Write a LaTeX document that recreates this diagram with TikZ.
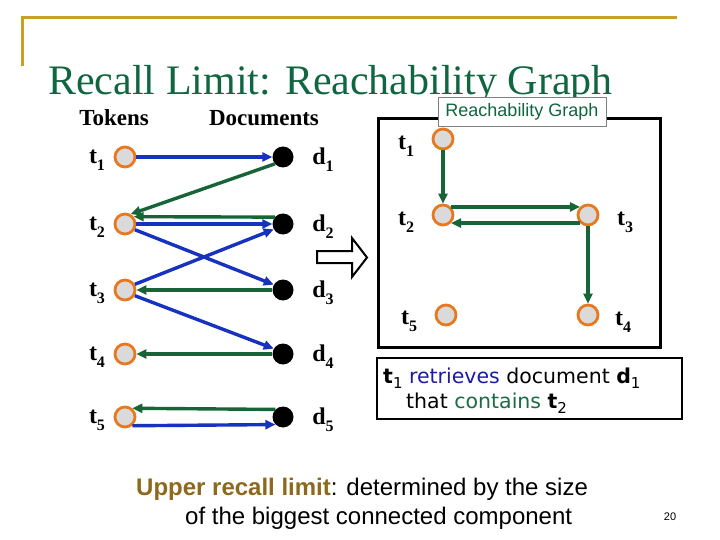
\documentclass[tikz,border=0pt]{standalone}
\usepackage{fontspec}
\setmainfont{Liberation Serif}
\newfontfamily\arialf{Liberation Sans}
\newfontfamily\verdf{DejaVu Sans}
\usetikzlibrary{arrows.meta}
\definecolor{goldC}{RGB}{200,160,40}
\definecolor{titleC}{RGB}{16,102,64}
\definecolor{orangeC}{RGB}{232,120,30}
\definecolor{grayC}{RGB}{218,218,218}
\definecolor{blueC}{RGB}{22,50,190}
\definecolor{greenC}{RGB}{22,100,55}
\definecolor{txtblue}{RGB}{28,28,160}
\definecolor{txtgreen}{RGB}{30,105,70}
\definecolor{brownC}{RGB}{140,105,28}
\newcommand\lab[2]{#1\raisebox{-0.28em}{\fontsize{16}{16}\selectfont #2}}
\newcommand\vlab[2]{\textbf{#1}\raisebox{-0.25em}{\fontsize{15}{15}\selectfont #2}}
\begin{document}
\begin{tikzpicture}[x=1pt,y=-1pt,
  tok/.style={circle,draw=orangeC,line width=2.8pt,fill=grayC,minimum size=20pt,inner sep=0pt},
  doc/.style={circle,fill=black,minimum size=21pt,inner sep=0pt},
  lbl/.style={font=\fontsize{24}{24}\selectfont\bfseries,inner sep=0pt},
  bl/.style={draw=blueC,line width=3.4pt,-{Triangle[length=10pt,width=9pt]}},
  gr/.style={draw=greenC,line width=3.4pt,-{Triangle[length=10pt,width=9pt]}},
  hdr/.style={font=\fontsize{23}{23}\selectfont\bfseries,inner sep=0pt}]
\useasboundingbox (0,0) rectangle (720,540);
% gold frame lines
\draw[goldC,line width=3pt] (22,66) -- (22,18) -- (677,18);
% title
\node[anchor=base west,inner sep=0pt,text=titleC,font=\fontsize{42}{42}\selectfont] (title) at (48,95) {Recall Limit: Reachability Graph};
% headers
\node[hdr] (htok) at (114,118) {Tokens};
\node[hdr] (hdoc) at (264,118) {Documents};
% left tokens and documents
\foreach \i/\y in {1/157,2/224,3/290,4/354,5/417}{
  \node[tok] (t\i) at (125,\y) {};
  \node[doc] (d\i) at (283,\y) {};
  \node[lbl] (lt\i) at (97,\y+3) {\lab{t}{\i}};
  \node[lbl] (ld\i) at (323,\y+3) {\lab{d}{\i}};
}
% left edges
\draw[bl] (t1) -- (d1);
\draw[gr] (d1.220) -- (t2.60);
\draw[gr] (d2.140) -- (t2.40);
\draw[bl] (t2) -- (d2);
\draw[bl] (t2.-30) -- (d3.150);
\draw[bl] (t3.30) -- (d2.-150);
\draw[gr] (d3) -- (t3);
\draw[bl] (t3.-30) -- (d4.150);
\draw[gr] (d4) -- (t4);
\draw[gr] (d5.135) -- (t5.50);
\draw[bl] (t5.-50) -- (d5.-135);
% hollow arrow
\draw[line width=2pt,fill=white] (317,251) -- (352,251) -- (352,238) -- (367,257.5) -- (352,277) -- (352,263) -- (317,263) -- cycle;
% right box
\draw[line width=3pt] (378,119) rectangle (660,347);
\node[draw=gray,line width=0.6pt,fill=white,minimum width=168pt,minimum height=29pt,inner sep=0pt,text=titleC,font=\arialf\fontsize{18}{18}\selectfont] (rgt) at (522,111.5) {Reachability Graph};
% right nodes
\node[tok] (r1) at (443,139) {};
\node[tok] (r2) at (443,215) {};
\node[tok] (r3) at (588,215) {};
\node[tok] (r5) at (446,315) {};
\node[tok] (r4) at (588,315) {};
\node[lbl] (lr1) at (406,146) {\lab{t}{1}};
\node[lbl] (lr2) at (406,222) {\lab{t}{2}};
\node[lbl] (lr3) at (625,222) {\lab{t}{3}};
\node[lbl] (lr5) at (409,321) {\lab{t}{5}};
\node[lbl] (lr4) at (623,322) {\lab{t}{4}};
\draw[gr] (r1) -- (r2);
\draw[gr] (r2.45) -- (r3.135);
\draw[gr] (r3.-135) -- (r2.-45);
\draw[gr] (r3) -- (r4);
% explanation box
\draw[line width=2.4pt] (377,358) rectangle (682,419);
\node[anchor=base west,inner sep=0pt,font=\verdf\fontsize{20.5}{20.5}\selectfont] (ex1) at (383,383) {\vlab{t}{1} \textcolor{txtblue}{retrieves} document \vlab{d}{1}};
\node[anchor=base west,inner sep=0pt,font=\verdf\fontsize{20.5}{20.5}\selectfont] (ex2) at (406,408) {that \textcolor{txtgreen}{contains} \vlab{t}{2}};
% bottom text
\node[anchor=base west,inner sep=0pt,font=\arialf\fontsize{24}{24}\selectfont] (b1) at (136,495) {\textcolor{brownC}{\textbf{Upper recall limit}}: determined by the size};
\node[anchor=base west,inner sep=0pt,font=\arialf\fontsize{24}{24}\selectfont] (b2) at (185,524) {of the biggest connected component};
\node[inner sep=0pt,font=\arialf\fontsize{11}{11}\selectfont] (pg) at (670,517) {20};
\end{tikzpicture}
\end{document}
